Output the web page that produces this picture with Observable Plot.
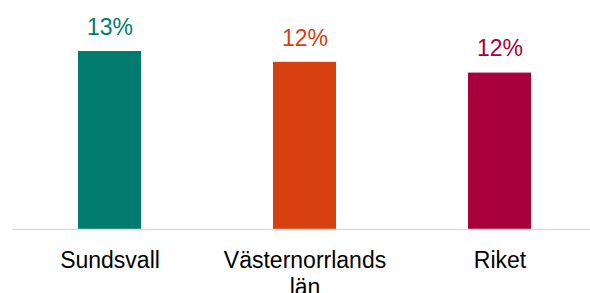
<!DOCTYPE html>
<html>
<head>
<meta charset="utf-8">
<script src="https://cdn.jsdelivr.net/npm/d3@7"></script>
<script src="https://cdn.jsdelivr.net/npm/@observablehq/plot@0.6"></script>
<style>
  html, body { margin: 0; padding: 0; background: #fff; }
  #chart svg { display: block; font-family: "Liberation Sans", Arial, sans-serif; }
</style>
</head>
<body>
<div id="chart"></div>
<script>
const categories = ["Sundsvall", "Västernorrlands län", "Riket"];
const values = [13.2, 12.4, 11.6];
const labels = ["13%", "12%", "12%"];
const colors = ["#007B6D", "#D74011", "#A8003A"];

const data = categories.map((c, i) => ({ cat: c, value: values[i], label: labels[i] }));

const chart = Plot.plot({
  width: 590,
  height: 293,
  marginTop: 20,
  marginBottom: 64,
  marginLeft: 12,
  marginRight: 0,
  style: { fontFamily: "'Liberation Sans', Arial, sans-serif", background: "#fff" },
  x: { domain: categories, range: [12, 597], paddingInner: 0.677, paddingOuter: 0.3385, label: null },
  y: { domain: [0, 15.5], axis: null },
  color: { domain: categories, range: colors },
  marks: [
    Plot.barY(data, { x: "cat", y: "value", fill: "cat" }),
    Plot.ruleY([0], { stroke: "#d9d9d9", strokeWidth: 1.5 }),
    Plot.text(data, {
      x: "cat", y: "value", text: "label", fill: "cat",
      dy: -24, fontSize: 23, lineAnchor: "middle"
    }),
    Plot.axisX({
      tickSize: 0, tickPadding: 20, fontSize: 23, lineWidth: 8,
      lineHeight: 1.15, fill: "#000", label: null
    })
  ]
});
document.getElementById("chart").appendChild(chart);
</script>
</body>
</html>
